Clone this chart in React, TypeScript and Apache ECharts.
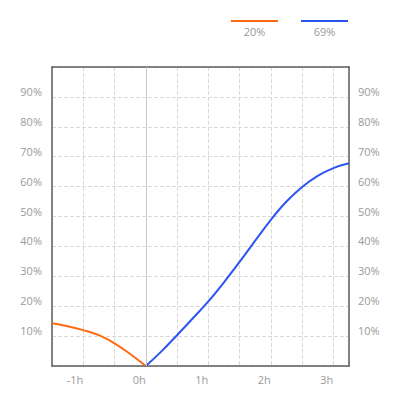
import React, { useEffect, useRef } from 'react'
import * as echarts from 'echarts'

// hours relative to now, values in percent
const beforeHours = [-1.5, -1.25, -1, -0.75, -0.5, -0.25, 0]
const beforeValues = [14.3, 13.3, 12.0, 10.3, 7.6, 4.0, 0]

const afterHours = [0, 0.25, 0.5, 0.75, 1, 1.25, 1.5, 1.75, 2, 2.25, 2.5, 2.75, 3, 3.25]
const afterValues = [0, 4.9, 10.3, 15.9, 21.6, 28.0, 34.8, 41.9, 48.9, 55.0, 59.9, 63.6, 66.2, 67.8]

const seriesNames = ['20%', '69%']
const seriesColors = ['#ff6a13', '#2b55ee']

const FONT = 'Open Sans'
const LABEL_COLOR = '#9a9a9a'
const FRAME_COLOR = '#5c5c5c'

const App: React.FC = () => {
    const chartRef = useRef<HTMLDivElement | null>(null)

    useEffect(() => {
        if (!chartRef.current) return
        const chart = echarts.init(chartRef.current, undefined, { renderer: 'svg' })

        const yLabel = (v: number) => (v <= 0 || v >= 100 ? '' : v + '%')
        const splitLine = { show: true, lineStyle: { color: '#d9d9d9', type: 'dashed' as const, width: 1 } }
        const frameLine = { show: true, onZero: false, lineStyle: { color: FRAME_COLOR, width: 1.5 } }

        const legendItems = seriesNames.flatMap((name, i) => {
            const x0 = 231 + i * 70
            return [
                {
                    type: 'line',
                    shape: { x1: x0, y1: 21, x2: x0 + 47, y2: 21 },
                    style: { stroke: seriesColors[i], lineWidth: 2 },
                },
                {
                    type: 'text',
                    x: x0 + 23.5,
                    y: 31,
                    style: {
                        text: name,
                        fill: LABEL_COLOR,
                        font: `11px "${FONT}"`,
                        textAlign: 'center',
                        textVerticalAlign: 'middle',
                    },
                },
            ]
        })

        const common = { min: 0, max: 100, interval: 10, type: 'value' as const, axisTick: { show: false } }

        chart.setOption({
            animation: false,
            grid: {
                left: 52,
                right: 51,
                top: 67,
                bottom: 34,
                containLabel: false,
            },
            xAxis: [
                {
                    type: 'value',
                    position: 'bottom',
                    min: -1.5,
                    max: 3.25,
                    interval: 0.5,
                    axisLine: frameLine,
                    axisTick: { show: false },
                    splitLine,
                    axisLabel: {
                        color: LABEL_COLOR,
                        fontFamily: FONT,
                        fontSize: 11,
                        align: 'right',
                        margin: 8,
                        showMaxLabel: false,
                        formatter: (v: number) => (Number.isInteger(v) ? v + 'h' : ''),
                    },
                },
                {
                    type: 'value',
                    position: 'top',
                    min: -1.5,
                    max: 3.25,
                    axisLine: frameLine,
                    axisTick: { show: false },
                    axisLabel: { show: false },
                    splitLine: { show: false },
                },
            ],
            yAxis: [
                {
                    ...common,
                    position: 'left',
                    axisLine: frameLine,
                    splitLine,
                    axisLabel: {
                        color: LABEL_COLOR,
                        fontFamily: FONT,
                        fontSize: 11,
                        verticalAlign: 'bottom',
                        margin: 10,
                        formatter: yLabel,
                    },
                },
                {
                    ...common,
                    position: 'right',
                    axisLine: frameLine,
                    splitLine: { show: false },
                    axisLabel: {
                        color: LABEL_COLOR,
                        fontFamily: FONT,
                        fontSize: 11,
                        verticalAlign: 'bottom',
                        margin: 9,
                        formatter: yLabel,
                    },
                },
            ],
            series: [
                {
                    name: seriesNames[0],
                    type: 'line',
                    smooth: 0.4,
                    showSymbol: false,
                    data: beforeHours.map((h, i) => [h, beforeValues[i]]),
                    lineStyle: { color: seriesColors[0], width: 2 },
                    itemStyle: { color: seriesColors[0] },
                    z: 3,
                },
                {
                    name: seriesNames[1],
                    type: 'line',
                    smooth: 0.4,
                    showSymbol: false,
                    data: afterHours.map((h, i) => [h, afterValues[i]]),
                    lineStyle: { color: seriesColors[1], width: 2 },
                    itemStyle: { color: seriesColors[1] },
                    z: 3,
                    markLine: {
                        silent: true,
                        symbol: 'none',
                        label: { show: false },
                        lineStyle: { color: '#c8c8c8', type: 'solid', width: 1 },
                        data: [{ xAxis: 0 }],
                    },
                },
            ],
            graphic: legendItems,
        })

        return () => {
            chart.dispose()
        }
    }, [])

    return (
        <div
            ref={chartRef}
            style={{ position: 'fixed', left: 0, top: 0, width: 400, height: 400, background: '#fff' }}
        />
    )
}

export default App
